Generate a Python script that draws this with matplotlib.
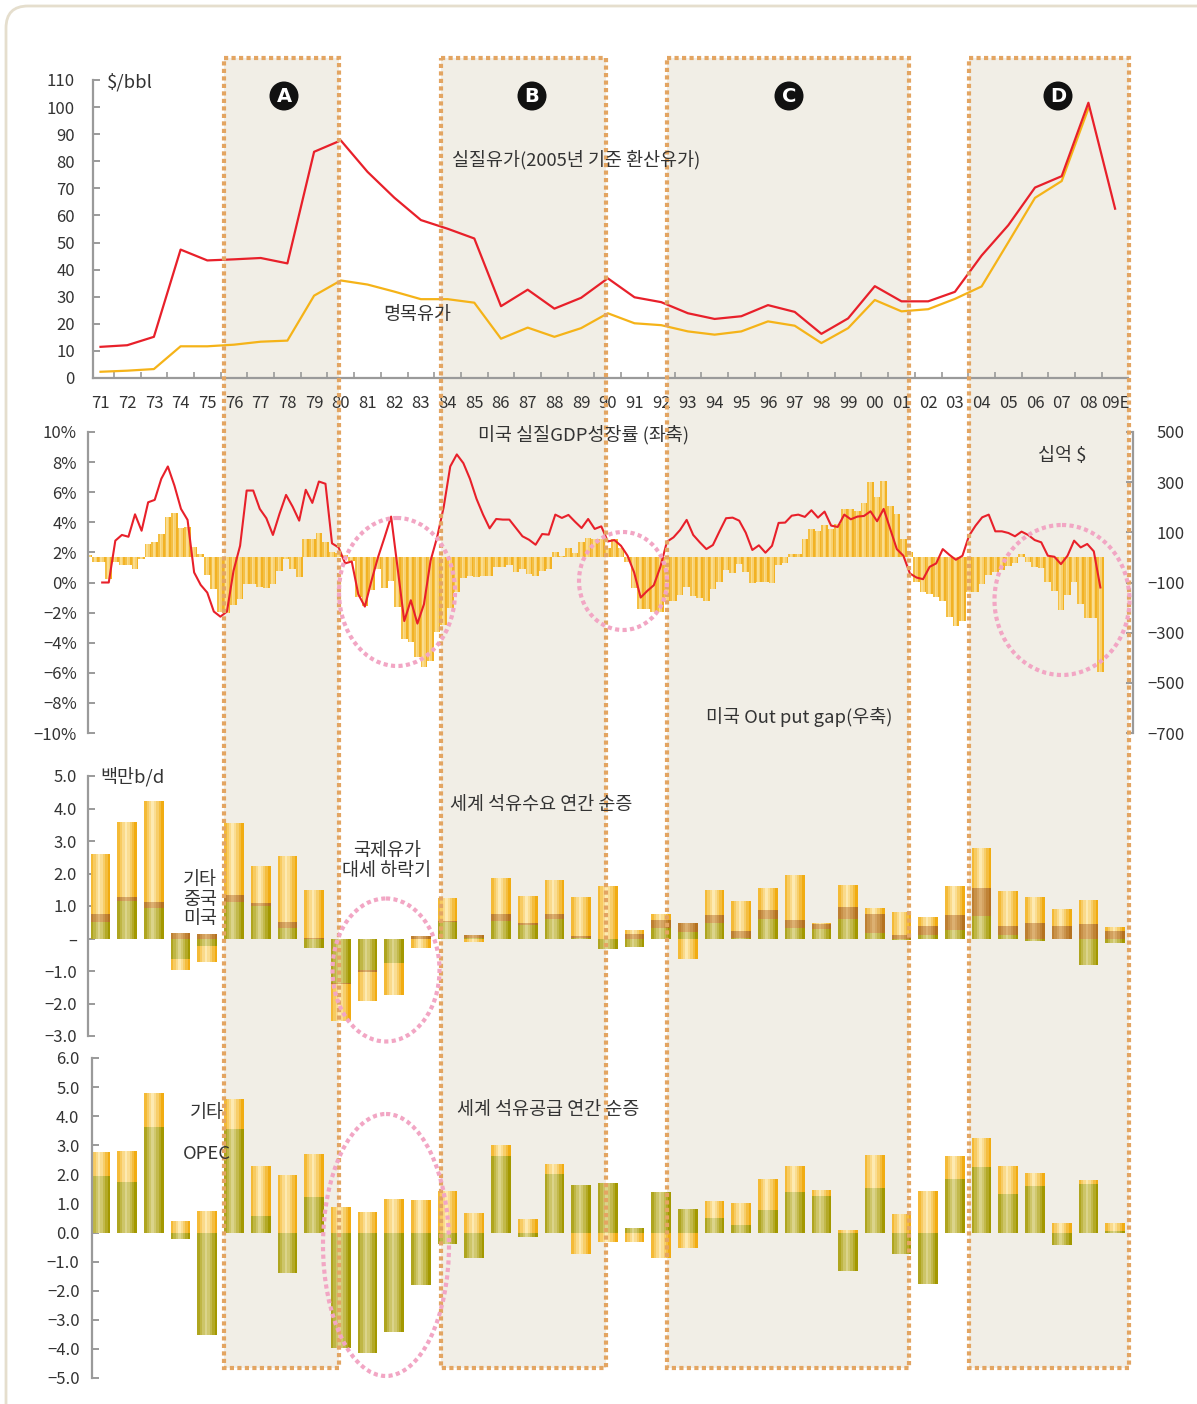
import numpy as np
import matplotlib
matplotlib.use("Agg")
import matplotlib.pyplot as plt
from matplotlib.patches import Rectangle, Ellipse, Circle, FancyBboxPatch
from matplotlib.colors import to_rgb

plt.rcParams['font.family'] = ['Noto Sans CJK KR', 'DejaVu Sans']

W, H = 1197, 1404

# ---------------- data ----------------
years = ['71', '72', '73', '74', '75', '76', '77', '78', '79', '80',
         '81', '82', '83', '84', '85', '86', '87', '88', '89', '90',
         '91', '92', '93', '94', '95', '96', '97', '98', '99', '00',
         '01', '02', '03', '04', '05', '06', '07', '08', '09E']

# $/bbl
real_price = [11.5, 12.1, 15.2, 47.4, 43.4, 43.8, 44.3, 42.3, 83.5, 87.7,
              76.1, 66.6, 58.3, 55.1, 51.5, 26.5, 32.6, 25.6, 29.6, 36.8,
              29.8, 28.0, 23.9, 21.8, 22.8, 26.9, 24.4, 16.3, 22.0, 33.9,
              28.3, 28.3, 31.8, 45.2, 56.4, 70.3, 74.5, 101.6, 62.5]
nominal_price = [2.3, 2.7, 3.3, 11.7, 11.7, 12.3, 13.4, 13.8, 30.4, 36.0,
                 34.5, 31.9, 29.1, 29.1, 27.8, 14.5, 18.6, 15.2, 18.4, 23.9,
                 20.2, 19.5, 17.2, 16.0, 17.2, 20.9, 19.3, 12.9, 18.4, 28.8,
                 24.6, 25.4, 29.2, 33.8, 50.1, 66.5, 72.7, 99.5]

# US output gap, quarterly (billion $)
output_gap = [9, -17, -17, -88, -17, -29, -29, -48, -8, 52,
              61, 93, 163, 177, 117, 121, 41, 13, -69, -125,
              -217, -223, -189, -165, -104, -106, -117, -120, -105, -53,
              -5, -48, -77, 73, 73, 96, 61, 21, 16, 9,
              -15, -159, -194, -130, -48, -121, -94, -197, -326, -336,
              -399, -436, -412, -296, -270, -201, -137, -81, -74, -77,
              -74, -74, -37, -39, -31, -57, -47, -66, -74, -54,
              -45, 20, 5, 39, 19, 61, 78, 74, 72, 39,
              72, 39, -17, -120, -205, -205, -218, -218, -174, -174,
              -150, -117, -154, -161, -174, -126, -97, -50, -61, -27,
              -59, -101, -98, -98, -101, -31, -21, 12, 12, 73,
              113, 105, 129, 114, 135, 195, 193, 185, 218, 300,
              239, 304, 205, 173, 73, 20, -97, -137, -146, -159,
              -173, -237, -273, -254, -137, -137, -106, -70, -60, -50,
              -35, -24, 13, -19, -37, -41, -97, -133, -210, -150,
              -97, -186, -241, -241, -456]

# US real GDP growth, quarterly (%), starts at the 3rd output-gap quarter
gdp_growth = [0.0, 0.0, 2.78, 3.16, 3.04, 4.53, 3.44, 5.33, 5.49, 6.89,
              7.71, 6.44, 4.89, 4.16, 0.67, -0.16, -0.67, -1.93, -2.27, -1.93,
              0.78, 2.44, 6.11, 6.11, 4.89, 4.27, 3.16, 4.56, 5.82, 5.04,
              4.11, 6.16, 5.29, 6.71, 6.56, 2.60, 2.33, 1.27, 1.40, -0.78,
              -1.60, 0.11, 1.67, 3.00, 4.38, 0.90, -2.56, -1.18, -2.73, -1.44,
              1.44, 3.00, 5.00, 7.71, 8.51, 7.93, 6.89, 5.56, 4.51, 3.60,
              4.22, 4.18, 4.18, 3.62, 3.07, 2.84, 2.51, 3.22, 3.18, 4.51,
              4.29, 4.49, 4.04, 3.62, 4.22, 3.56, 3.73, 2.73, 2.82, 2.44,
              1.78, 0.67, -1.00, -0.56, -0.18, 1.04, 2.71, 3.00, 3.49, 4.16,
              3.16, 2.67, 2.22, 2.49, 3.40, 4.27, 4.31, 4.11, 3.31, 2.16,
              2.47, 1.98, 2.44, 3.96, 3.98, 4.44, 4.51, 4.36, 4.80, 4.31,
              4.71, 3.78, 3.69, 4.51, 4.20, 4.38, 4.42, 4.73, 4.07, 4.89,
              3.56, 2.22, 1.78, 0.60, 0.33, 0.22, 1.04, 1.27, 2.22, 1.84,
              1.51, 1.78, 3.11, 3.78, 4.33, 4.51, 3.40, 3.40, 3.29, 3.07,
              3.38, 3.16, 2.82, 2.67, 1.78, 1.71, 1.22, 1.78, 2.78, 2.33,
              2.56, 2.07, -0.33]
gdp_start_quarter = 2

# world oil demand, yearly change (million b/d)
demand_us = [0.52, 1.15, 0.94, -0.63, -0.24, 1.13, 1.01, 0.33, -0.30, -1.37,
             -0.98, -0.76, 0.00, 0.52, 0.03, 0.54, 0.41, 0.60, 0.03, -0.32,
             -0.27, 0.33, 0.21, 0.48, 0.03, 0.60, 0.33, 0.30, 0.60, 0.18,
             -0.06, 0.12, 0.27, 0.70, 0.10, -0.09, 0.00, -0.81, -0.14]
demand_cn = [0.22, 0.13, 0.19, 0.18, 0.15, 0.21, 0.09, 0.19, 0.03, -0.04,
             -0.05, 0.00, 0.08, 0.02, 0.08, 0.22, 0.08, 0.14, 0.05, 0.00,
             0.15, 0.25, 0.28, 0.25, 0.21, 0.28, 0.25, 0.14, 0.37, 0.58,
             0.12, 0.25, 0.44, 0.85, 0.27, 0.49, 0.40, 0.46, 0.24]
demand_other = [1.85, 2.31, 3.10, -0.33, -0.48, 2.22, 1.12, 2.03, 1.45, -1.12,
                -0.88, -0.97, -0.30, 0.71, -0.10, 1.10, 0.82, 1.06, 1.20, 1.61,
                0.12, 0.18, -0.64, 0.76, 0.92, 0.67, 1.37, 0.05, 0.67, 0.18,
                0.70, 0.30, 0.90, 1.22, 1.09, 0.79, 0.51, 0.73, 0.12]

# world oil supply, yearly change (million b/d)
supply_opec = [1.95, 1.75, 3.63, -0.23, -3.53, 3.56, 0.58, -1.39, 1.23, -3.98,
               -4.14, -3.41, -1.82, -0.38, -0.89, 2.64, -0.14, 2.02, 1.64, 1.71,
               0.14, 1.39, 0.81, 0.50, 0.26, 0.78, 1.39, 1.26, -1.31, 1.53,
               -0.73, -1.76, 1.84, 2.25, 1.32, 1.60, -0.42, 1.67, 0.06]
supply_other = [0.82, 1.06, 1.16, 0.38, 0.75, 1.03, 1.71, 1.99, 1.48, 0.89,
                0.72, 1.16, 1.13, 1.44, 0.68, 0.37, 0.45, 0.34, -0.74, -0.31,
                -0.32, -0.87, -0.53, 0.58, 0.76, 1.06, 0.89, 0.20, 0.09, 1.13,
                0.64, 1.43, 0.79, 0.99, 0.96, 0.44, 0.33, 0.13, 0.27]

# highlighted periods (year index, 0 = 1971)
period_names = ['A', 'B', 'C', 'D']
period_start = [4.63, 12.75, 21.22, 32.53]
period_end = [8.93, 18.93, 30.28, 38.52]

# ---------------- helpers ----------------
X0, DX = 100.5, 26.7      # year index -> pixel
Q0, DQ = 89.05, 6.567     # quarter index -> pixel

RED = '#E8202A'
GOLD = '#F5B318'
YEL = ('#F1AC12', '#FDEBB6')
OLIVE = ('#A39800', '#DCD58E')
BROWN = ('#B5721F', '#DDB174')
SPINE = '#9A9A9A'
TXT = '#333333'


def yr_px(i):
    return X0 + DX * i


def px_axes(left, top, right, bottom):
    return fig.add_axes([left / W, 1 - bottom / H, (right - left) / W, (bottom - top) / H])


def grad_bar(ax, x, height, bottom, width, cols, n=8, z=2):
    d, l = np.array(to_rgb(cols[0])), np.array(to_rgb(cols[1]))
    edges = np.linspace(-0.5, 0.5, n + 1)
    for a, b in zip(edges[:-1], edges[1:]):
        u = a + b
        t = max(0.0, 1 - abs(u + 0.1) / 0.95) ** 0.9
        ax.bar(np.asarray(x) + (a + b) / 2 * width, height, width=(b - a) * width * 1.06,
               bottom=bottom, color=d + (l - d) * t, linewidth=0, zorder=z)


def stacked(ax, x, comps, colors, width):
    pos = np.zeros(len(x))
    neg = np.zeros(len(x))
    for vals, cols in zip(comps, colors):
        v = np.asarray(vals, float)
        grad_bar(ax, x, v, np.where(v >= 0, pos, neg), width, cols)
        pos = pos + np.clip(v, 0, None)
        neg = neg + np.clip(v, None, 0)


def style_left(ax, pad):
    for s in ['top', 'right', 'bottom']:
        ax.spines[s].set_visible(False)
    ax.spines['left'].set_color(SPINE)
    ax.spines['left'].set_linewidth(1.6)
    ax.tick_params(axis='y', direction='in', length=5, width=1.4, color=SPINE,
                   pad=pad, labelsize=12, labelcolor=TXT)
    ax.set_facecolor('none')


def mlabel(v, fmt):
    s = fmt.format(abs(v))
    return ('\u2212' + s) if v < 0 else s


fig = plt.figure(figsize=(W / 100, H / 100), dpi=100)

bg = fig.add_axes([0, 0, 1, 1], zorder=-5)
bg.set_xlim(0, W)
bg.set_ylim(H, 0)
bg.axis('off')
fg = fig.add_axes([0, 0, 1, 1], zorder=10)
fg.set_xlim(0, W)
fg.set_ylim(H, 0)
fg.axis('off')
fg.patch.set_alpha(0)

bg.add_patch(FancyBboxPatch((6, 6), W + 60, H + 60,
                            boxstyle='round,pad=0,rounding_size=22',
                            fc='white', ec='#E5DECD', lw=2))

for s, e in zip(period_start, period_end):
    x0, x1 = yr_px(s), yr_px(e)
    bg.add_patch(Rectangle((x0, 58), x1 - x0, 1310, fc='#F1EEE6', ec='none'))
    fg.add_patch(Rectangle((x0, 58), x1 - x0, 1310, fill=False, ec='#E3A562',
                           lw=3.0, ls=(0, (1.0, 0.8))))

letter_px = [284, 532, 789, 1058]
for name, cx in zip(period_names, letter_px):
    fg.add_patch(Circle((cx, 96), 14.5, fc='#111111', ec='none'))
    fg.text(cx, 97, name, ha='center', va='center', color='white',
            fontsize=14, fontweight='bold', family='DejaVu Sans')

# ---------------- panel 1: oil price ----------------
ax1 = px_axes(93, 80, 1128, 378)
style_left(ax1, 13)
ax1.spines['bottom'].set_visible(True)
ax1.spines['bottom'].set_color(SPINE)
ax1.spines['bottom'].set_linewidth(1.6)
xi = np.arange(len(years))
ax1.plot(xi, real_price, color=RED, lw=1.6, zorder=4)
ax1.plot(np.arange(len(nominal_price)), nominal_price, color=GOLD, lw=1.6, zorder=3)
ax1.set_xlim((93 - X0) / DX, (1128 - X0) / DX)
ax1.set_ylim(0, 110)
ax1.set_yticks(np.arange(0, 111, 10))
ax1.set_xticks(xi)
ax1.set_xticklabels(years)
ax1.set_xticks(xi[:-1] + 0.5, minor=True)
ax1.tick_params(axis='x', which='major', length=0, pad=12, labelsize=12, labelcolor=TXT)
ax1.tick_params(axis='x', which='minor', direction='in', length=4, width=1.2, color=SPINE)

# ---------------- panel 2: GDP growth & output gap ----------------
ax2 = px_axes(88, 432, 1133, 733)
ax2r = ax2.twinx()
ax2r.set_zorder(1)
ax2.set_zorder(2)
style_left(ax2, 8)
ax2.patch.set_visible(False)
qi = np.arange(len(output_gap))
grad_bar(ax2r, qi, output_gap, 0, 1.0, ('#F0AA10', '#FCE5A4'), n=4)
ax2.plot(np.arange(len(gdp_growth)) + gdp_start_quarter, gdp_growth, color=RED, lw=1.5, zorder=4)
ax2.set_xlim((88 - Q0) / DQ, (1133 - Q0) / DQ)
ax2.set_ylim(-10, 10)
gt = np.arange(10, -11, -2)
ax2.set_yticks(gt)
ax2.set_yticklabels([mlabel(v, '{:d}%') for v in gt])
ax2.set_xticks([])
ax2r.set_ylim(-700, 500)
rt = np.arange(500, -701, -200)
ax2r.set_yticks(rt)
ax2r.set_yticklabels([mlabel(v, '{:d}') for v in rt])
for s in ['top', 'left', 'bottom']:
    ax2r.spines[s].set_visible(False)
ax2r.spines['right'].set_color(SPINE)
ax2r.spines['right'].set_linewidth(1.6)
ax2r.tick_params(axis='y', direction='in', length=5, width=1.4, color=SPINE,
                 pad=37, labelsize=12, labelcolor=TXT)
for lab in ax2r.get_yticklabels():
    lab.set_ha('right')
ax2r.set_facecolor('none')

# ---------------- panel 3: demand ----------------
ax3 = px_axes(88, 776, 1133, 1036)
style_left(ax3, 8)
stacked(ax3, xi, [demand_us, demand_cn, demand_other], [OLIVE, BROWN, YEL], 0.73)
ax3.set_xlim((88 - X0) / DX, (1133 - X0) / DX)
ax3.set_ylim(-3, 5)
dt = np.arange(5, -4, -1)
ax3.set_yticks(dt)
ax3.set_yticklabels(['\u2013' if v == 0 else mlabel(v, '{:.1f}') for v in dt])
ax3.set_xticks([])

# ---------------- panel 4: supply ----------------
ax4 = px_axes(92, 1058, 1133, 1378)
style_left(ax4, 9)
stacked(ax4, xi, [supply_opec, supply_other], [OLIVE, YEL], 0.73)
ax4.set_xlim((92 - X0) / DX, (1133 - X0) / DX)
ax4.set_ylim(-5, 6)
st = np.arange(6, -6, -1)
ax4.set_yticks(st)
ax4.set_yticklabels([mlabel(v, '{:.1f}') for v in st])
ax4.set_xticks([])

# ---------------- annotations ----------------
ell = [(397, 592, 116, 148), (623, 581, 88, 98), (1062, 600, 135, 150),
       (386, 970, 107, 143), (386, 1245, 126, 262)]
for cx, cy, w, h in ell:
    fg.add_patch(Ellipse((cx, cy), w, h, fill=False, ec='#F2A6C4', lw=3.0,
                         ls=(0, (1.0, 0.8))))

texts = [
    (107, 82, '$/bbl', 'left'),
    (452, 160, '실질유가(2005년 기준 환산유가)', 'left'),
    (383, 315, '명목유가', 'left'),
    (478, 435, '미국 실질GDP성장률 (좌축)', 'left'),
    (1038, 456, '십억 $', 'left'),
    (706, 717, '미국 Out put gap(우축)', 'left'),
    (100, 777, '백만b/d', 'left'),
    (450, 805, '세계 석유수요 연간 순증', 'left'),
    (387, 851, '국제유가', 'center'),
    (387, 871, '대세 하락기', 'center'),
    (200, 880, '기타', 'center'),
    (200, 900, '중국', 'center'),
    (200, 919, '미국', 'center'),
    (207, 1113, '기타', 'center'),
    (183, 1154, 'OPEC', 'left'),
    (457, 1110, '세계 석유공급 연간 순증', 'left'),
]
for x, y, s, ha in texts:
    fg.text(x, y, s, ha=ha, va='center', fontsize=13.3, color=TXT)

fig.savefig('out.png', dpi=100)
